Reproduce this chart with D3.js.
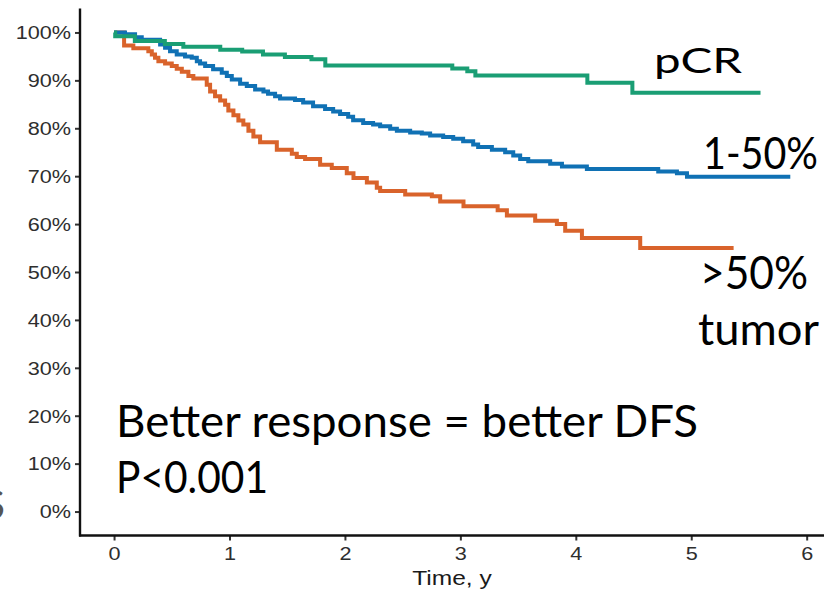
<!DOCTYPE html>
<html>
<head>
<meta charset="utf-8">
<script src="https://cdn.jsdelivr.net/npm/d3@7"></script>
<style>
  html, body { margin: 0; padding: 0; background: #fff; }
  svg { display: block; }
</style>
</head>
<body>
<svg id="chart" width="833" height="591"></svg>
<script>
// ---------- data ----------
const xTicks = [0, 1, 2, 3, 4, 5, 6];
const yTicks = [0, 0.1, 0.2, 0.3, 0.4, 0.5, 0.6, 0.7, 0.8, 0.9, 1.0];
const yTickLabels = ["0%", "10%", "20%", "30%", "40%", "50%", "60%", "70%", "80%", "90%", "100%"];
const xTitle = "Time, y";

const seriesNames = ["pCR", "1-50%", ">50% tumor"];
const seriesColors = ["#1a9e74", "#1071b4", "#d9632b"];

// pCR
const pcrTime = [0, 0.01, 0.18, 0.44, 0.60, 0.92, 1.11, 1.29, 1.48, 1.71, 1.83, 2.93, 3.06, 3.13, 4.10, 4.49, 5.60];
const pcrSurv = [100, 99.2, 98.2, 97.6, 97.0, 96.4, 96.0, 95.4, 94.9, 94.4, 93.1, 92.5, 91.9, 91.0, 89.5, 87.4, 87.4];

// 1-50% residual
const midTime = [0, 0.095, 0.182, 0.240, 0.399, 0.442, 0.485, 0.543, 0.615, 0.673, 0.717, 0.745, 0.789, 0.858, 0.933, 0.977,
  1.020, 1.092, 1.150, 1.222, 1.294, 1.334, 1.395, 1.438, 1.568, 1.638, 1.724, 1.828, 1.898, 1.958, 2.028, 2.071,
  2.158, 2.244, 2.305, 2.392, 2.450, 2.565, 2.666, 2.738, 2.851, 2.938, 3.024, 3.111, 3.154, 3.273, 3.388, 3.458,
  3.518, 3.588, 3.778, 3.880, 4.096, 4.714, 4.876, 4.963, 5.858];
const midSurv = [100, 99.6, 99.0, 98.5, 97.5, 96.8, 96.1, 95.4, 95.0, 94.7, 94.0, 93.5, 93.0, 92.3, 91.6, 90.9,
  90.2, 89.3, 88.8, 88.1, 87.7, 87.2, 86.7, 86.2, 85.9, 85.4, 84.6, 84.0, 83.5, 83.0, 82.4, 81.7,
  81.1, 80.8, 80.4, 79.9, 79.5, 79.1, 78.9, 78.5, 78.2, 77.8, 77.3, 76.6, 76.1, 75.5, 75.0, 74.3,
  73.6, 73.1, 72.6, 72.0, 71.5, 71.0, 70.6, 69.9, 69.9];

// >50% tumor
const highTime = [0, 0.087, 0.167, 0.297, 0.327, 0.355, 0.384, 0.442, 0.500, 0.543, 0.587, 0.644, 0.687, 0.803, 0.832,
  0.875, 0.919, 0.962, 0.990, 1.034, 1.077, 1.120, 1.164, 1.207, 1.265, 1.410, 1.540, 1.583, 1.655, 1.785, 1.886,
  2.016, 2.074, 2.190, 2.276, 2.305, 2.522, 2.753, 2.825, 3.027, 3.323, 3.403, 3.648, 3.836, 3.908, 4.053, 4.558, 5.367];
const highSurv = [100, 97.3, 96.7, 96.1, 95.4, 94.7, 94.0, 93.5, 93.0, 92.4, 91.8, 90.9, 90.4, 89.1, 87.7,
  86.7, 85.8, 84.9, 83.7, 82.7, 81.6, 80.8, 79.5, 78.3, 77.1, 75.5, 74.7, 74.0, 73.6, 72.4, 71.7,
  70.6, 69.6, 68.7, 67.6, 66.9, 66.2, 65.8, 64.7, 63.7, 62.9, 61.8, 60.7, 60.0, 58.6, 57.1, 55.0, 55.0];

const annoMain = "Better response = better DFS";
const annoP = "P<0.001";
const labelPcr = "pCR";
const labelMid = "1-50%";
const labelHigh1 = ">50%";
const labelHigh2 = "tumor";

// ---------- layout ----------
const svg = d3.select("#chart");
const L = 80, R = 824, T = 8.5, B = 535.5;
const x = d3.scaleLinear().domain([-0.295, 6.15]).range([L, R]);
const y = d3.scaleLinear().domain([-0.05, 1.05]).range([B, T]);
const SX = 1.17; // horizontal stretch of the reference image text

const series = [
  { t: highTime, s: highSurv, color: seriesColors[2] },
  { t: midTime, s: midSurv, color: seriesColors[1] },
  { t: pcrTime, s: pcrSurv, color: seriesColors[0] }
];

const line = d3.line()
  .x(d => x(d[0]))
  .y(d => y(d[1] / 100))
  .curve(d3.curveStepAfter);

svg.append("g").selectAll("path")
  .data(series)
  .join("path")
  .attr("d", d => line(d.t.map((tt, i) => [tt, d.s[i]])))
  .attr("fill", "none")
  .attr("stroke", d => d.color)
  .attr("stroke-width", 4)
  .attr("stroke-linejoin", "miter")
  .attr("stroke-linecap", "butt");

// ---------- axes ----------
const yAxis = svg.append("g")
  .attr("transform", `translate(${L},0)`)
  .call(d3.axisLeft(y).tickValues(yTicks).tickFormat((d, i) => yTickLabels[i]).tickSize(5).tickSizeOuter(0));
yAxis.select(".domain").remove();
yAxis.selectAll(".tick line").attr("stroke", "#333").attr("stroke-width", 2);
yAxis.selectAll(".tick text")
  .attr("font-family", "'Liberation Sans', Arial, sans-serif")
  .attr("font-size", 18.5)
  .attr("fill", "#2e2e2e")
  .attr("x", -9 / SX)
  .attr("dy", "0.34em")
  .attr("transform", `scale(${SX},1)`);

const xAxis = svg.append("g")
  .attr("transform", `translate(0,${B})`)
  .call(d3.axisBottom(x).tickValues(xTicks).tickFormat(d3.format("d")).tickSize(5).tickSizeOuter(0));
xAxis.select(".domain").remove();
xAxis.selectAll(".tick line").attr("stroke", "#333").attr("stroke-width", 2);
xAxis.selectAll(".tick text")
  .attr("font-family", "'Liberation Sans', Arial, sans-serif")
  .attr("font-size", 18.5)
  .attr("fill", "#2e2e2e")
  .attr("y", 24.5)
  .attr("dy", null)
  .attr("transform", `scale(${SX},1)`);

// axis lines
svg.append("line").attr("x1", L).attr("x2", L).attr("y1", T).attr("y2", B + 1)
  .attr("stroke", "#111").attr("stroke-width", 2.4);
svg.append("line").attr("x1", L - 1).attr("x2", R).attr("y1", B).attr("y2", B)
  .attr("stroke", "#111").attr("stroke-width", 2.4);

// axis title
svg.append("text")
  .attr("transform", `translate(${(L + R) / 2},585) scale(${SX},1)`)
  .attr("text-anchor", "middle")
  .attr("font-family", "'Liberation Sans', Arial, sans-serif")
  .attr("font-size", 21)
  .attr("fill", "#1a1a1a")
  .text(xTitle);

// ---------- annotations ----------
const annoFont = "Lato, 'Open Sans', sans-serif";
function anno(txt, xx, yy, size, len) {
  svg.append("text")
    .attr("x", xx).attr("y", yy)
    .attr("font-family", annoFont)
    .attr("font-size", size)
    .attr("fill", "#000")
    .attr("textLength", len)
    .attr("lengthAdjust", "spacingAndGlyphs")
    .text(txt);
}
anno(annoMain, 116, 437, 44, 582);
anno(annoP, 116, 493, 44, 152);
anno(labelPcr, 654, 73, 34, 88);
anno(labelMid, 703, 168.5, 43.5, 115);
anno(labelHigh1, 700, 288.5, 46, 108);
anno(labelHigh2, 698, 345, 45, 121);

// cut-off glyph at the left edge
svg.append("text")
  .attr("x", 5).attr("y", 519)
  .attr("text-anchor", "end")
  .attr("font-family", annoFont)
  .attr("font-size", 40)
  .attr("fill", "#555")
  .text("S");
</script>
</body>
</html>
